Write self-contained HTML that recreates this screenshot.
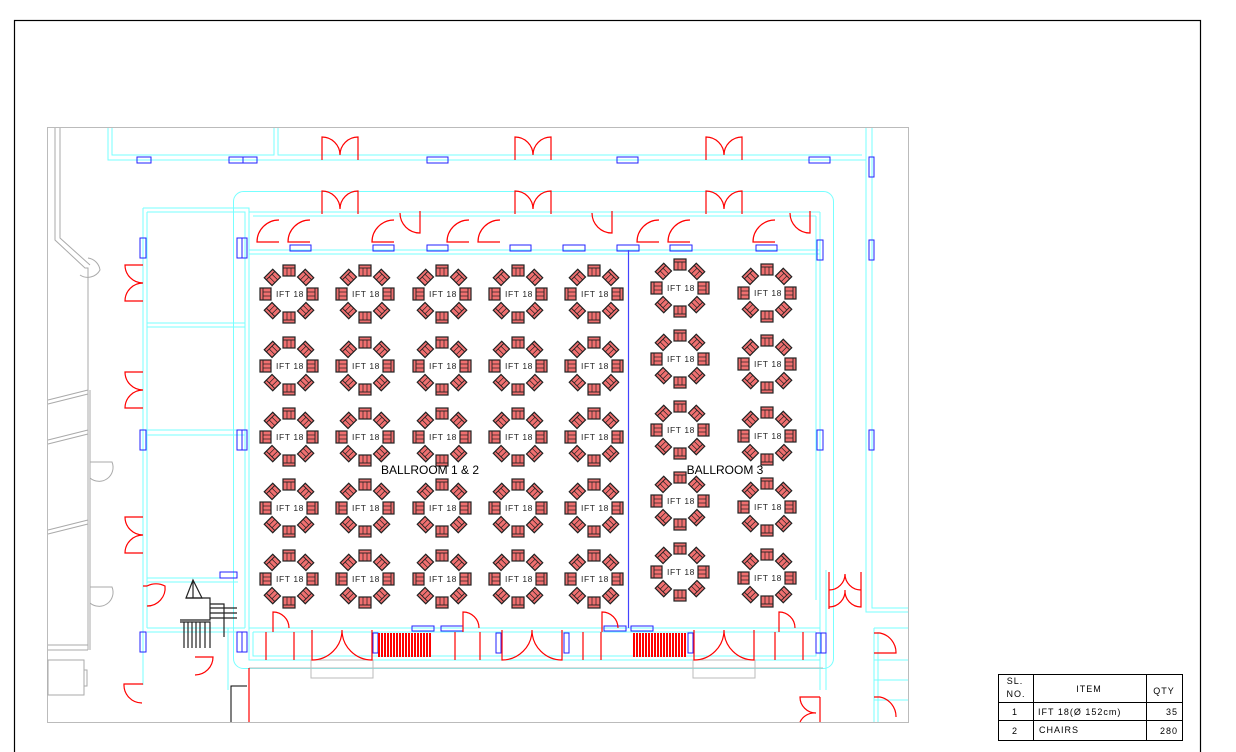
<!DOCTYPE html>
<html><head><meta charset="utf-8"><style>
html,body{margin:0;padding:0;background:#fff;}
svg{display:block;}
text{font-family:"Liberation Sans",sans-serif;}
</style></head><body>
<svg width="1236" height="752" viewBox="0 0 1236 752" xmlns="http://www.w3.org/2000/svg">
<defs>
<g id="ch"><rect x="-6" y="-29" width="12" height="11" fill="#f07070" stroke="#222" stroke-width="1.2"/><line x1="-6" y1="-26" x2="6" y2="-26" stroke="#222" stroke-width="0.9"/><line x1="-2" y1="-26" x2="-2" y2="-18" stroke="#222" stroke-width="0.7"/><line x1="2" y1="-26" x2="2" y2="-18" stroke="#222" stroke-width="0.7"/></g>
<g id="t"><use href="#ch"/><use href="#ch" transform="rotate(45)"/><use href="#ch" transform="rotate(90)"/><use href="#ch" transform="rotate(135)"/><use href="#ch" transform="rotate(180)"/><use href="#ch" transform="rotate(225)"/><use href="#ch" transform="rotate(270)"/><use href="#ch" transform="rotate(315)"/></g>
<g id="dd" fill="none" stroke="#f00" stroke-width="1.2"><path d="M0,23 V0 A18,18 0 0 1 18,18 M36,23 V0 A18,18 0 0 0 18,18"/></g>
<g id="qd" fill="none" stroke="#f00" stroke-width="1.2"><path d="M22,0 A22,22 0 0 0 0,22 H22"/></g>
<g id="jd" fill="none" stroke="#f00" stroke-width="1.2"><path d="M20,0 V22 A20,20 0 0 1 0,2"/></g>
<g id="ld" fill="none" stroke="#f00" stroke-width="1.2"><path d="M0,0 H-18 A18,18 0 0 0 0,18 A18,18 0 0 0 -18,36 H0"/></g>
</defs>
<rect x="14.5" y="20.5" width="1186" height="740" fill="none" stroke="#000" stroke-width="1.2"/>
<rect x="47.5" y="127.5" width="861" height="595" fill="none" stroke="#bbb" stroke-width="1"/>
<g fill="none" stroke="#aaa" stroke-width="1">
<polyline points="55,128 55,240 85,268 88,268 88,390"/><polyline points="60,128 60,238 90,265"/>
<path d="M88,390 V440 M90,390 V440"/><path d="M48,400 L88,390 M48,404 L88,394"/>
<path d="M48,440 L88,430 M48,444 L88,434"/><path d="M88,430 V650 M90,440 V650"/>
<path d="M48,530 L88,520 M48,534 L88,524"/><path d="M48,645 H88 M48,650 H88"/>
<path d="M90,462 H112 A14,14 0 0 1 90,478"/><path d="M90,587 H112 A14,14 0 0 1 90,603"/>
<path d="M88,258 A14,14 0 0 1 100,270 A14,14 0 0 1 80,275"/>
<rect x="48" y="660" width="36" height="35"/><rect x="84" y="670" width="3" height="16"/>
</g>
<g fill="none" stroke="#7ff" stroke-width="1">
<path d="M108,128 V160 H866 V128 M112,128 V155 H274 V128 M278,128 V155 H862"/>
<path d="M866,160 V612 H908 M872,128 V608 H908"/>
<rect x="233.5" y="191.5" width="600" height="477" rx="10"/>
<path d="M143,208 H249 V628 M147,212 H245 V628"/>
<path d="M143,208 V685 M147,212 V628"/>
<path d="M147,323 H245 M147,327 H245 M147,430 H245 M147,435 H245 M147,578 H230 M147,582 H238"/>
<path d="M147,628 H245 M147,632 H245"/>
<path d="M249,250 H820 M249,254 H820 M249,212 H820 M253,216 H816"/>
<path d="M820,212 V600 M816,216 V600"/>
<path d="M249,628 V660 H820 V628 M253,632 V656 H816 V632"/>
<path d="M249,628 H820 M253,632 H816"/>
<path d="M820,600 V690 M826,570 V690"/>
<path d="M874,628 H908 M874,660 H908 M874,680 H908 M874,700 H908 M874,628 V722 M878,632 V722"/>
<path d="M228,628 V690"/>
</g>
<g fill="none" stroke="#bbb" stroke-width="1"><rect x="311" y="660" width="62" height="18"/><rect x="693" y="660" width="62" height="18"/><path d="M249,668 H823"/></g>
<path d="M249,668 V722" stroke="#f00" stroke-width="1.2"/>
<path d="M231,722 V686 H247" stroke="#000" fill="none" stroke-width="1"/>
<g fill="none" stroke="#22f" stroke-width="1">
<rect x="137" y="157" width="14" height="6"/><rect x="229" y="157" width="14" height="6"/><rect x="243" y="157" width="14" height="6"/>
<rect x="427" y="157" width="21" height="6"/><rect x="617" y="157" width="21" height="6"/><rect x="809" y="157" width="21" height="6"/>
<rect x="869" y="157" width="5" height="20"/><rect x="869" y="240" width="5" height="20"/><rect x="869" y="430" width="5" height="20"/>
<rect x="140" y="238" width="6" height="20"/><rect x="140" y="430" width="6" height="20"/><rect x="140" y="632" width="6" height="20"/>
<rect x="237" y="238" width="5" height="20"/><rect x="242" y="238" width="5" height="20"/>
<rect x="237" y="430" width="5" height="20"/><rect x="242" y="430" width="5" height="20"/>
<rect x="237" y="632" width="5" height="20"/><rect x="242" y="632" width="5" height="20"/>
<rect x="220" y="572" width="17" height="6"/>
<rect x="290" y="245" width="21" height="6"/><rect x="373" y="245" width="21" height="6"/><rect x="427" y="245" width="21" height="6"/><rect x="510" y="245" width="21" height="6"/><rect x="563" y="245" width="22" height="6"/><rect x="617" y="245" width="22" height="6"/><rect x="670" y="245" width="22" height="6"/><rect x="756" y="245" width="21" height="6"/>
<rect x="817" y="240" width="6" height="20"/><rect x="817" y="430" width="6" height="20"/>
<rect x="816" y="633" width="5" height="20"/><rect x="821" y="633" width="5" height="20"/>
<rect x="373" y="633" width="5" height="20"/><rect x="496" y="633" width="5" height="20"/><rect x="564" y="633" width="5" height="20"/><rect x="688" y="633" width="5" height="20"/>
<rect x="412" y="626" width="22" height="5"/><rect x="441" y="626" width="22" height="5"/><rect x="604" y="626" width="22" height="5"/><rect x="631" y="626" width="22" height="5"/>
</g>
<line x1="628.5" y1="250" x2="628.5" y2="628" stroke="#44f" stroke-width="1.2"/>
<g stroke="#f00" stroke-width="2"><path d="M379,633V657M382,633V657M385,633V657M388,633V657M391,633V657M394,633V657M397,633V657M400,633V657M403,633V657M406,633V657M409,633V657M412,633V657M415,633V657M418,633V657M421,633V657M424,633V657M427,633V657M430,633V657"/>
<path d="M634,633V657M637,633V657M640,633V657M643,633V657M646,633V657M649,633V657M652,633V657M655,633V657M658,633V657M661,633V657M664,633V657M667,633V657M670,633V657M673,633V657M676,633V657M679,633V657M682,633V657M685,633V657"/></g>
<use href="#dd" x="322" y="137"/><use href="#dd" x="515" y="137"/><use href="#dd" x="706" y="137"/>
<use href="#dd" x="322" y="191"/><use href="#dd" x="515" y="191"/><use href="#dd" x="706" y="191"/>
<use href="#qd" x="257" y="220"/><use href="#qd" x="288" y="220"/><use href="#qd" x="372" y="220"/><use href="#qd" x="447" y="220"/><use href="#qd" x="478" y="220"/><use href="#qd" x="637" y="220"/><use href="#qd" x="668" y="220"/><use href="#qd" x="753" y="220"/>
<use href="#jd" x="400" y="211"/><use href="#jd" x="592" y="211"/><use href="#jd" x="790" y="211"/>
<use href="#ld" x="143" y="265"/><use href="#ld" x="143" y="372"/><use href="#ld" x="143" y="517"/>
<g fill="none" stroke="#f00" stroke-width="1.2">
<path d="M143,586 H147 A20,20 0 0 1 165,586 A18,18 0 0 1 147,606"/>
<path d="M143,684 H124 A18,18 0 0 0 142,703"/>
<path d="M195,657 H213 A18,18 0 0 1 195,675"/>
<path d="M312,630 V660 A30,30 0 0 0 342,630 A30,30 0 0 0 372,660 V630"/>
<path d="M502,630 V660 A30,30 0 0 0 532,630 A30,30 0 0 0 562,660 V630"/>
<path d="M694,630 V660 A30,30 0 0 0 724,630 A30,30 0 0 0 754,660 V630"/>
<path d="M273,632 V612 A16,16 0 0 1 289,628"/><path d="M463,632 V612 A16,16 0 0 1 479,628"/><path d="M602,632 V612 A16,16 0 0 1 618,628"/><path d="M779,632 V612 A16,16 0 0 1 795,628"/>
<path d="M266,632V660M294,632V660M455,632V660M480,632V660M583,632V660M601,632V660M775,632V660M803,632V660"/>
<path d="M829,572 V609 M829,590 A16,16 0 0 0 845,574 A16,16 0 0 0 861,590 V572 M845,590 A16,16 0 0 1 829,607 M845,590 A16,16 0 0 0 861,607 V590"/>
<path d="M874,633 H880 A20,20 0 0 1 896,653 H874"/><path d="M874,697 H880 A20,20 0 0 1 896,717"/>
<path d="M820,697 H800 A16,16 0 0 0 816,713 A16,16 0 0 0 800,722 M820,697 V722"/>
</g>
<g fill="none" stroke="#222" stroke-width="1.2">
<path d="M193,580 L202,598 H186 Z M193,580 V598"/>
<path d="M186,598 H210 V620 H180 M210,604 H224 V637 M210,608 H237 M210,613 H237 M210,618 H237"/>
<path d="M180,622 H210 V648 M184,622V648M188,622V648M192,622V648M196,622V648M200,622V648M205,622V648"/>
</g>
<g>
<use href="#t" x="289" y="294"/><use href="#t" x="365" y="294"/><use href="#t" x="442" y="294"/><use href="#t" x="518" y="294"/><use href="#t" x="594" y="294"/>
<use href="#t" x="289" y="366"/><use href="#t" x="365" y="366"/><use href="#t" x="442" y="366"/><use href="#t" x="518" y="366"/><use href="#t" x="594" y="366"/>
<use href="#t" x="289" y="437"/><use href="#t" x="365" y="437"/><use href="#t" x="442" y="437"/><use href="#t" x="518" y="437"/><use href="#t" x="594" y="437"/>
<use href="#t" x="289" y="508"/><use href="#t" x="365" y="508"/><use href="#t" x="442" y="508"/><use href="#t" x="518" y="508"/><use href="#t" x="594" y="508"/>
<use href="#t" x="289" y="579"/><use href="#t" x="365" y="579"/><use href="#t" x="442" y="579"/><use href="#t" x="518" y="579"/><use href="#t" x="594" y="579"/>
<use href="#t" x="680" y="288"/><use href="#t" x="680" y="359"/><use href="#t" x="680" y="430"/><use href="#t" x="680" y="501"/><use href="#t" x="680" y="572"/>
<use href="#t" x="767" y="293"/><use href="#t" x="767" y="364"/><use href="#t" x="767" y="436"/><use href="#t" x="767" y="507"/><use href="#t" x="767" y="578"/>
</g>
<g font-size="8.5" fill="#222" text-anchor="middle" letter-spacing="0.6">
<text x="290" y="297">IFT 18</text><text x="366" y="297">IFT 18</text><text x="443" y="297">IFT 18</text><text x="519" y="297">IFT 18</text><text x="595" y="297">IFT 18</text>
<text x="290" y="369">IFT 18</text><text x="366" y="369">IFT 18</text><text x="443" y="369">IFT 18</text><text x="519" y="369">IFT 18</text><text x="595" y="369">IFT 18</text>
<text x="290" y="440">IFT 18</text><text x="366" y="440">IFT 18</text><text x="443" y="440">IFT 18</text><text x="519" y="440">IFT 18</text><text x="595" y="440">IFT 18</text>
<text x="290" y="511">IFT 18</text><text x="366" y="511">IFT 18</text><text x="443" y="511">IFT 18</text><text x="519" y="511">IFT 18</text><text x="595" y="511">IFT 18</text>
<text x="290" y="582">IFT 18</text><text x="366" y="582">IFT 18</text><text x="443" y="582">IFT 18</text><text x="519" y="582">IFT 18</text><text x="595" y="582">IFT 18</text>
<text x="681" y="291">IFT 18</text><text x="681" y="362">IFT 18</text><text x="681" y="433">IFT 18</text><text x="681" y="504">IFT 18</text><text x="681" y="575">IFT 18</text>
<text x="768" y="296">IFT 18</text><text x="768" y="367">IFT 18</text><text x="768" y="439">IFT 18</text><text x="768" y="510">IFT 18</text><text x="768" y="581">IFT 18</text>
</g>
<text x="430" y="474" font-size="12" text-anchor="middle" fill="#000">BALLROOM 1 &amp; 2</text>
<text x="725" y="474" font-size="12" text-anchor="middle" fill="#000">BALLROOM 3</text>
<g fill="none" stroke="#000" stroke-width="1">
<rect x="998.5" y="674.5" width="184" height="66"/>
<path d="M998.5,702.5 H1182.5 M998.5,720.5 H1182.5 M1033.5,674.5 V740.5 M1146.5,674.5 V740.5"/>
</g>
<g font-size="9" fill="#000" letter-spacing="1">
<text x="1015" y="684" text-anchor="middle">SL.</text><text x="1016" y="697" text-anchor="middle">NO.</text>
<text x="1089" y="692" text-anchor="middle">ITEM</text><text x="1164" y="694" text-anchor="middle">QTY</text>
<text x="1015" y="715" text-anchor="middle">1</text><text x="1038" y="715">IFT 18(Ø 152cm)</text><text x="1178" y="715" text-anchor="end">35</text>
<text x="1015" y="734" text-anchor="middle">2</text><text x="1039" y="733">CHAIRS</text><text x="1178" y="734" text-anchor="end">280</text>
</g>
</svg>
</body></html>
